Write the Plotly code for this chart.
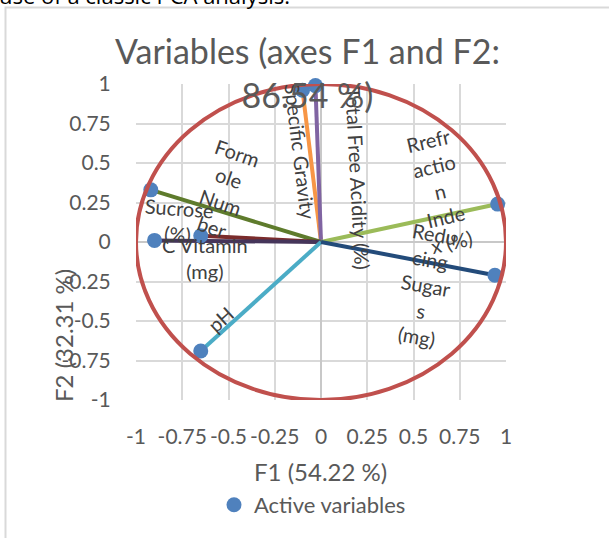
import plotly.graph_objects as go

# ---------------- data ----------------
variables = ["Specific Gravity", "Total Free Acidity (%)", "Sucrose (%)", "Formole Number",
             "C Vitamin (mg)", "pH", "Rrefraction Index (%)", "Reducing Sugars (mg)"]
f1 = [-0.10, -0.03, -0.92, -0.65, -0.90, -0.65, 0.955, 0.94]
f2 = [0.96, 0.99, 0.33, 0.04, 0.01, -0.69, 0.24, -0.21]
label_text = ["Specific Gravity", "Total Free Acidity (%)", "Sucrose<br>(%)", "Form<br>ole<br>Num<br>ber",
              "C Vitamin<br>(mg)", "pH", "Rrefr<br>actio<br>n<br>Inde<br>x (%)", "Redu<br>cing<br>Sugar<br>s<br>(mg)"]
tick_vals = [-1, -0.75, -0.5, -0.25, 0, 0.25, 0.5, 0.75, 1]
tick_text = [f"{v:g}" for v in tick_vals]
title_text = "Variables (axes F1 and F2:<br>86.54 %)"
x_title = "F1 (54.22 %)"
y_title = "F2 (32.31 %)"
legend_name = "Active variables"

# ---------------- style ----------------
W, H = 609, 538
ML, MR, MT, MB = 136, 103, 84, 138
PW, PH = W - ML - MR, H - MT - MB
FONT = "Lato, 'Open Sans', sans-serif"
TXT = "#595959"
LBL = "#404040"
line_colors = ["#F79646", "#8064A2", "#5E7B2C", "#7A2C2C", "#45355A", "#4BACC6", "#9BBB59", "#234B7A"]
# label centres (data coords) and rotation
label_pos = [(-0.112, 0.575), (0.2, 0.405), (-0.771, 0.13), (-0.517, 0.33),
             (-0.625, -0.10), (-0.544, -0.485), (0.645, 0.32), (0.565, -0.275)]
label_angle = [83, 87, 4, 19, 0, -42, -13, 10]


def px_x(p):
    return (p - ML) / PW


def px_y(p):
    return (H - MB - p) / PH


fig = go.Figure()

for i, name in enumerate(variables):
    fig.add_trace(go.Scatter(x=[0, f1[i]], y=[0, f2[i]], mode="lines",
                             line=dict(color=line_colors[i], width=4),
                             showlegend=False, hoverinfo="skip"))

fig.add_trace(go.Scatter(x=f1, y=f2, mode="markers", name=legend_name,
                         marker=dict(color="#4F81BD", size=15), cliponaxis=False,
                         text=variables, showlegend=True))

fig.add_shape(type="circle", xref="x", yref="y", x0=-1, y0=-1, x1=1, y1=1,
              line=dict(color="#C0504D", width=4), layer="above")

# chart-area border
fig.add_shape(type="rect", xref="paper", yref="paper",
              x0=px_x(5.5), x1=px_x(700), y0=px_y(700), y1=px_y(7.5),
              line=dict(color="#D9D9D9", width=2), fillcolor="rgba(0,0,0,0)", layer="below")

annotations = []
for i in range(len(variables)):
    annotations.append(dict(x=label_pos[i][0], y=label_pos[i][1], xref="x", yref="y",
                            text=label_text[i], showarrow=False, textangle=label_angle[i],
                            font=dict(family=FONT, size=20, color=LBL),
                            xanchor="center", yanchor="middle"))

annotations.append(dict(x=px_x(307), y=px_y(72.5), xref="paper", yref="paper", text=title_text,
                        showarrow=False, font=dict(family=FONT, size=34, color=TXT),
                        xanchor="center", yanchor="middle"))
annotations.append(dict(x=px_x(320), y=px_y(472), xref="paper", yref="paper", text=x_title,
                        showarrow=False, font=dict(family=FONT, size=24, color=TXT),
                        xanchor="center", yanchor="middle"))
annotations.append(dict(x=px_x(63), y=px_y(336), xref="paper", yref="paper", text=y_title,
                        showarrow=False, textangle=-90, font=dict(family=FONT, size=24, color=TXT),
                        xanchor="center", yanchor="middle"))
annotations.append(dict(x=px_x(-3), y=px_y(11.5), xref="paper", yref="paper",
                        text="use of a classic PCA analysis.", showarrow=False,
                        font=dict(family="'Open Sans', sans-serif", size=22, color="#000000"),
                        xanchor="left", yanchor="bottom"))

axis_common = dict(range=[-1, 1], tickvals=tick_vals, ticktext=tick_text,
                   showgrid=True, gridcolor="#D9D9D9", gridwidth=2,
                   zeroline=True, zerolinecolor="#C8C8C8", zerolinewidth=2,
                   showline=False, ticks="outside", tickcolor="rgba(0,0,0,0)",
                   tickfont=dict(family=FONT, size=21, color=TXT), fixedrange=True)

fig.update_layout(
    width=W, height=H,
    margin=dict(l=ML, r=MR, t=MT, b=MB, pad=0),
    paper_bgcolor="white", plot_bgcolor="white",
    xaxis=dict(**axis_common, ticklen=18),
    yaxis=dict(**axis_common, ticklen=20),
    annotations=annotations,
    showlegend=True,
    legend=dict(orientation="h", x=px_x(214), y=px_y(505), xanchor="left", yanchor="middle",
                font=dict(family=FONT, size=22, color=TXT), bgcolor="rgba(0,0,0,0)",
                itemwidth=30, tracegroupgap=0),
)

fig.write_html("out.html", config={"displayModeBar": False},
               post_script="document.body.style.margin='0';")
